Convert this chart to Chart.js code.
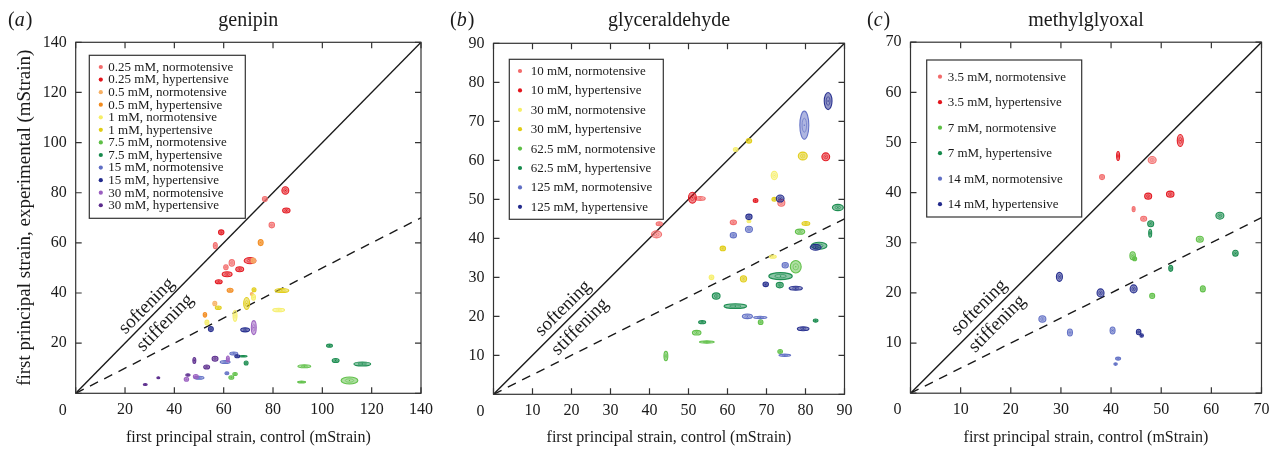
<!DOCTYPE html>
<html>
<head>
<meta charset="utf-8">
<script src="https://cdn.jsdelivr.net/npm/chart.js@4.4.0/dist/chart.umd.min.js"></script>
<style>
  html, body { margin: 0; padding: 0; background: #fff; }
  body { width: 1279px; height: 455px; position: relative; overflow: hidden; }
  canvas { position: absolute; top: 0; }
</style>
</head>
<body>
<canvas id="chartA" width="440" height="455" style="left:0"></canvas>
<canvas id="chartB" width="420" height="455" style="left:440px"></canvas>
<canvas id="chartC" width="419" height="455" style="left:860px"></canvas>
<script>
// each point: [control mean, experimental mean, control sd, experimental sd]  (mStrain)

// (a) genipin
const genipinTicks = [0, 20, 40, 60, 80, 100, 120, 140];
const genipinLabels = ['0.25 mM, normotensive', '0.25 mM, hypertensive', '0.5 mM, normotensive', '0.5 mM, hypertensive',
    '1 mM, normotensive', '1 mM, hypertensive', '7.5 mM, normotensive', '7.5 mM, hypertensive',
    '15 mM, normotensive', '15 mM, hypertensive', '30 mM, normotensive', '30 mM, hypertensive'];
const gen025Normo = [[76.7, 77.5, 1.0, 1.0], [79.5, 67.1, 1.1, 1.1], [56.6, 58.9, 0.8, 1.2], [63.3, 52.0, 1.1, 1.3], [60.9, 50.3, 0.9, 1.0]];
const gen025Hyper = [[85.0, 80.9, 1.4, 1.5], [85.4, 72.9, 1.5, 1.0], [59.0, 64.2, 1.1, 1.0], [70.7, 52.9, 2.4, 1.2], [66.5, 49.5, 1.6, 1.0], [61.4, 47.5, 2.0, 1.0], [58.0, 44.5, 1.4, 0.8]];
const gen05Normo = [[72.0, 52.9, 0.9, 1.0], [56.4, 35.8, 0.8, 0.9], [71.4, 39.6, 0.6, 0.6]];
const gen05Hyper = [[75.0, 60.1, 1.0, 1.2], [62.6, 41.1, 1.2, 0.8], [52.4, 31.3, 0.7, 0.9]];
const gen1Normo = [[82.3, 33.2, 2.4, 0.7], [72.1, 38.3, 0.8, 1.2], [64.6, 30.9, 0.8, 2.2], [53.2, 28.2, 0.8, 1.0]];
const gen1Hyper = [[83.6, 41.0, 2.8, 0.8], [72.3, 41.3, 0.8, 0.8], [69.3, 35.8, 1.2, 2.4], [57.8, 34.1, 1.2, 0.7]];
const gen75Normo = [[92.7, 10.8, 2.6, 0.6], [111.0, 5.1, 3.4, 1.4], [91.6, 4.5, 1.6, 0.4], [64.6, 7.7, 0.9, 0.6], [63.1, 6.3, 1.0, 0.7]];
const gen75Hyper = [[102.9, 19.0, 1.2, 0.6], [105.4, 13.1, 1.4, 0.8], [116.2, 11.7, 3.4, 0.8], [67.9, 14.8, 1.6, 0.3], [69.1, 12.1, 0.8, 0.8]];
const gen15Normo = [[64.1, 15.9, 1.6, 0.6], [60.6, 12.5, 2.0, 0.6], [61.3, 8.0, 0.8, 0.6], [50.0, 6.2, 2.0, 0.6]];
const gen15Hyper = [[54.8, 25.6, 1.0, 1.0], [68.7, 25.3, 1.8, 0.8], [65.5, 14.8, 1.0, 0.6]];
const gen30Normo = [[72.2, 26.2, 1.0, 2.8], [61.7, 13.7, 0.6, 1.2], [48.7, 6.7, 1.0, 0.8], [44.9, 5.6, 0.9, 0.8]];
const gen30Hyper = [[56.5, 13.8, 1.2, 1.0], [53.1, 10.5, 1.2, 0.8], [48.1, 13.1, 0.6, 1.2], [45.5, 7.3, 0.9, 0.5], [33.5, 6.2, 0.6, 0.4], [28.2, 3.5, 0.8, 0.4]];

// (b) glyceraldehyde
const glyTicks = [0, 10, 20, 30, 40, 50, 60, 70, 80, 90];
const glyLabels = ['10 mM, normotensive', '10 mM, hypertensive', '30 mM, normotensive', '30 mM, hypertensive',
    '62.5 mM, normotensive', '62.5 mM, hypertensive', '125 mM, normotensive', '125 mM, hypertensive'];
const gly10Normo = [[42.5, 43.7, 0.8, 0.5], [41.8, 41.0, 1.3, 0.9], [53.0, 50.2, 1.3, 0.5], [61.5, 44.1, 0.8, 0.6], [73.8, 49.1, 0.9, 0.9]];
const gly10Hyper = [[51.0, 50.4, 1.0, 1.4], [67.2, 49.7, 0.6, 0.5], [85.2, 60.9, 1.0, 1.0]];
const gly30Normo = [[62.1, 62.8, 0.6, 0.5], [72.0, 56.1, 0.8, 1.1], [65.5, 44.4, 0.5, 0.4], [71.6, 35.3, 0.9, 0.4], [55.9, 30.0, 0.6, 0.6]];
const gly30Hyper = [[65.5, 65.0, 0.7, 0.6], [79.3, 61.1, 1.15, 1.0], [72.0, 50.0, 0.6, 0.5], [80.1, 43.8, 1.0, 0.5], [58.8, 37.4, 0.7, 0.6], [64.1, 29.6, 0.8, 0.8]];
const gly62Normo = [[78.6, 41.7, 1.2, 0.65], [77.5, 32.7, 1.4, 1.6], [68.5, 18.5, 0.6, 0.6], [52.1, 15.8, 1.1, 0.6], [54.7, 13.4, 1.9, 0.3], [44.2, 9.8, 0.5, 1.2], [73.5, 11.0, 0.6, 0.5]];
const gly62Hyper = [[88.3, 47.9, 1.4, 0.8], [83.5, 38.1, 2.0, 0.9], [73.6, 30.3, 3.0, 0.9], [73.4, 28.0, 0.9, 0.7], [57.1, 25.2, 1.0, 0.8], [62.0, 22.6, 2.9, 0.6], [53.5, 18.5, 0.9, 0.4], [82.6, 18.9, 0.6, 0.4]];
const gly125Normo = [[79.7, 69.0, 1.15, 3.6], [65.5, 42.3, 0.9, 0.8], [61.5, 40.8, 0.8, 0.7], [74.8, 33.1, 0.8, 0.7], [65.1, 20.0, 1.3, 0.6], [68.4, 19.7, 1.7, 0.3], [74.7, 10.0, 1.5, 0.3]];
const gly125Hyper = [[85.8, 75.2, 1.0, 2.2], [73.5, 50.2, 1.0, 0.9], [65.5, 45.5, 0.8, 0.7], [82.6, 37.7, 1.4, 0.75], [69.8, 28.2, 0.7, 0.6], [77.5, 27.2, 1.7, 0.5], [79.4, 16.8, 1.5, 0.5]];

// (c) methylglyoxal
const mgoTicks = [0, 10, 20, 30, 40, 50, 60, 70];
const mgoLabels = ['3.5 mM, normotensive', '3.5 mM, hypertensive', '7 mM, normotensive', '7 mM, hypertensive',
    '14 mM, normotensive', '14 mM, hypertensive'];
const mgo35Normo = [[48.2, 46.5, 0.8, 0.7], [38.2, 43.1, 0.5, 0.5], [44.5, 36.7, 0.3, 0.5], [46.5, 34.8, 0.6, 0.5]];
const mgo35Hyper = [[53.8, 50.4, 0.6, 1.2], [41.4, 47.3, 0.3, 0.9], [47.4, 39.3, 0.7, 0.6], [51.8, 39.7, 0.75, 0.6]];
const mgo7Normo = [[57.7, 30.7, 0.7, 0.6], [44.3, 27.4, 0.55, 0.8], [44.7, 26.8, 0.4, 0.4], [58.3, 20.8, 0.5, 0.6], [48.2, 19.4, 0.5, 0.5]];
const mgo7Hyper = [[47.9, 33.8, 0.6, 0.6], [47.8, 31.9, 0.3, 0.8], [61.7, 35.4, 0.8, 0.7], [64.8, 27.9, 0.55, 0.6], [51.9, 24.9, 0.4, 0.6]];
const mgo14Normo = [[26.3, 14.8, 0.7, 0.65], [31.8, 12.1, 0.5, 0.7], [40.3, 12.5, 0.5, 0.7], [41.4, 6.9, 0.5, 0.3], [40.9, 5.8, 0.35, 0.25]];
const mgo14Hyper = [[29.7, 23.2, 0.6, 0.9], [37.9, 20.0, 0.7, 0.8], [44.5, 20.8, 0.7, 0.8], [45.5, 12.2, 0.45, 0.55], [46.1, 11.5, 0.35, 0.35]];

const RED_L = '#f26a6a', RED = '#e3141c';
const ORANGE_L = '#f7b063', ORANGE = '#f28a1c';
const YELLOW_L = '#f6ee66', YELLOW = '#e0cc14';
const GREEN_L = '#5dbf45', GREEN = '#168a4c';
const BLUE_L = '#5f6ec4', BLUE = '#222a8c';
const PURPLE_L = '#9a5ec0', PURPLE = '#5a2a8c';

const SERIF = '"Liberation Serif", "Times New Roman", serif';
const INK = '#1a1a1a';

function rgba(hex, a) {
    const n = parseInt(hex.slice(1), 16);
    return `rgba(${n >> 16}, ${(n >> 8) & 255}, ${n & 255}, ${a})`;
}

function makePanel(id, p) {
    const canvas = document.getElementById(id);
    const W = canvas.width, H = canvas.height;
    const lo = p.ticks[0], hi = p.ticks[p.ticks.length - 1];
    const step = p.ticks[1] - p.ticks[0];

    const datasets = [
        { label: 'y = x', guide: true, data: [{ x: lo, y: lo }, { x: hi, y: hi }], showLine: true,
          borderColor: INK, borderWidth: 1.4, pointRadius: 0 },
        { label: 'y = x / 2', guide: true, data: [{ x: lo, y: lo }, { x: hi, y: hi / 2 }], showLine: true,
          borderColor: INK, borderWidth: 1.4, borderDash: [9, 7], pointRadius: 0 }
    ];
    p.series.forEach((pts, i) => datasets.push({
        label: p.labels[i],
        data: pts.map(([x, y, sx, sy]) => ({ x, y, sx, sy })),
        backgroundColor: p.colors[i],
        borderColor: p.colors[i],
        pointRadius: 0
    }));

    // error ellipses (mean +/- sd) drawn through the chart scales
    const ellipses = {
        id: 'ellipses',
        afterDatasetsDraw(chart) {
            const { ctx, chartArea: a, scales: { x, y } } = chart;
            ctx.save();
            ctx.beginPath();
            ctx.rect(a.left, a.top, a.width, a.height);
            ctx.clip();
            chart.data.datasets.forEach(ds => {
                if (ds.guide) return;
                const c = ds.borderColor;
                ds.data.forEach(pt => {
                    const cx = x.getPixelForValue(pt.x), cy = y.getPixelForValue(pt.y);
                    const rx = Math.abs(x.getPixelForValue(pt.x + pt.sx) - cx);
                    const ry = Math.abs(y.getPixelForValue(pt.y + pt.sy) - cy);
                    ctx.beginPath();
                    ctx.ellipse(cx, cy, rx, ry, 0, 0, Math.PI * 2);
                    ctx.fillStyle = rgba(c, 0.5);
                    ctx.fill();
                    ctx.lineWidth = 1.1;
                    ctx.strokeStyle = rgba(c, 0.95);
                    ctx.stroke();
                    ctx.beginPath();
                    ctx.ellipse(cx, cy, rx * 0.5, ry * 0.5, 0, 0, Math.PI * 2);
                    ctx.lineWidth = 0.8;
                    ctx.strokeStyle = rgba(c, 0.75);
                    ctx.stroke();
                    ctx.fillStyle = c;
                    ctx.fillRect(cx - 0.6, cy - 0.6, 1.2, 1.2);
                });
            });
            ctx.restore();
        }
    };

    // box frame with inward ticks, titles, labels, legend
    const decor = {
        id: 'decor',
        afterDraw(chart) {
            const { ctx, chartArea: a, scales: { x, y } } = chart;
            ctx.save();
            ctx.strokeStyle = '#333';
            ctx.lineWidth = 1.2;
            ctx.strokeRect(a.left, a.top, a.width, a.height);
            ctx.beginPath();
            x.ticks.forEach(t => {
                const px = x.getPixelForValue(t.value);
                ctx.moveTo(px, a.bottom); ctx.lineTo(px, a.bottom - 6);
                ctx.moveTo(px, a.top); ctx.lineTo(px, a.top + 6);
            });
            y.ticks.forEach(t => {
                const py = y.getPixelForValue(t.value);
                ctx.moveTo(a.left, py); ctx.lineTo(a.left + 6, py);
                ctx.moveTo(a.right, py); ctx.lineTo(a.right - 6, py);
            });
            ctx.stroke();

            ctx.fillStyle = INK;
            // corner zero
            ctx.font = `16px ${SERIF}`;
            ctx.textAlign = 'right';
            ctx.textBaseline = 'middle';
            ctx.fillText('0', a.left - 9, a.bottom + 17);

            // panel title
            ctx.font = `20px ${SERIF}`;
            ctx.textAlign = 'center';
            ctx.textBaseline = 'alphabetic';
            ctx.fillText(p.title, (a.left + a.right) / 2, 26);

            // panel tag "(a)"
            ctx.textAlign = 'left';
            let tx = p.tagX;
            ctx.font = `20px ${SERIF}`;
            ctx.fillText('(', tx, 26); tx += ctx.measureText('(').width;
            ctx.font = `italic 20px ${SERIF}`;
            ctx.fillText(p.tag, tx, 26); tx += ctx.measureText(p.tag).width + 1;
            ctx.font = `20px ${SERIF}`;
            ctx.fillText(')', tx, 26);

            // softening / stiffening along the identity line
            const ang = Math.atan2(y.getPixelForValue(hi) - y.getPixelForValue(lo),
                                   x.getPixelForValue(hi) - x.getPixelForValue(lo));
            ctx.font = `19px ${SERIF}`;
            ctx.textAlign = 'center';
            ctx.textBaseline = 'middle';
            p.notes.forEach(n => {
                ctx.save();
                ctx.translate(x.getPixelForValue(n.x), y.getPixelForValue(n.y));
                ctx.rotate(ang);
                ctx.fillText(n.text, 0, 0);
                ctx.restore();
            });

            // legend box
            const L = p.legend;
            const bx = a.left + L.x, by = a.top + L.y;
            ctx.fillStyle = '#fff';
            ctx.fillRect(bx, by, L.w, L.h);
            ctx.strokeStyle = '#333';
            ctx.lineWidth = 1.2;
            ctx.strokeRect(bx, by, L.w, L.h);
            ctx.font = `13px ${SERIF}`;
            ctx.textAlign = 'left';
            ctx.textBaseline = 'middle';
            chart.data.datasets.filter(ds => !ds.guide).forEach((ds, i) => {
                const ry = by + L.first + i * L.gap;
                ctx.fillStyle = ds.borderColor;
                ctx.beginPath();
                ctx.arc(bx + L.dot, ry, 2.1, 0, Math.PI * 2);
                ctx.fill();
                ctx.fillStyle = INK;
                ctx.fillText(ds.label, bx + L.text, ry + 0.5);
            });
            ctx.restore();
        }
    };

    const tickFont = { family: SERIF, size: 16 };
    const hideZero = v => (v === 0 ? '' : v);

    return new Chart(canvas, {
        type: 'scatter',
        data: { datasets },
        options: {
            responsive: false,
            animation: false,
            events: [],
            layout: {
                padding: { left: 0, top: p.area.top, right: W - p.area.left - p.area.size, bottom: 0 }
            },
            plugins: { legend: { display: false }, tooltip: { enabled: false }, title: { display: false } },
            scales: {
                x: {
                    type: 'linear', min: lo, max: hi,
                    afterBuildTicks: s => { s.ticks = p.ticks.map(v => ({ value: v })); },
                    afterFit: s => { s.height = H - p.area.top - p.area.size; },
                    ticks: { stepSize: step, callback: hideZero, font: tickFont, color: INK, padding: 7, maxRotation: 0, autoSkip: false },
                    grid: { display: false, drawTicks: false },
                    border: { display: false },
                    title: { display: true, text: 'first principal strain, control (mStrain)', font: { family: SERIF, size: 16 }, color: INK, padding: { top: 0, bottom: 8 } }
                },
                y: {
                    type: 'linear', min: lo, max: hi,
                    afterBuildTicks: s => { s.ticks = p.ticks.map(v => ({ value: v })); },
                    afterFit: s => { s.width = p.area.left; },
                    ticks: { stepSize: step, callback: hideZero, font: tickFont, color: INK, padding: 9, autoSkip: false },
                    grid: { display: false, drawTicks: false },
                    border: { display: false },
                    title: { display: !!p.yTitle, text: p.yTitle || '', font: { family: SERIF, size: 19 }, color: INK, padding: { top: 13.5, bottom: 0 } }
                }
            }
        },
        plugins: [ellipses, decor]
    });
}

makePanel('chartA', {
    title: 'genipin', tag: 'a', tagX: 8,
    ticks: genipinTicks, labels: genipinLabels,
    series: [gen025Normo, gen025Hyper, gen05Normo, gen05Hyper, gen1Normo, gen1Hyper,
             gen75Normo, gen75Hyper, gen15Normo, gen15Hyper, gen30Normo, gen30Hyper],
    colors: [RED_L, RED, ORANGE_L, ORANGE, YELLOW_L, YELLOW, GREEN_L, GREEN, BLUE_L, BLUE, PURPLE_L, PURPLE],
    yTitle: 'first principal strain, experimental (mStrain)',
    area: { left: 75.7, top: 42.3, size: 351 },
    legend: { x: 13.6, y: 13, w: 156, h: 163, first: 11.7, gap: 12.57, dot: 11.5, text: 19 },
    notes: [{ text: 'softening', x: 28.8, y: 34.8 }, { text: 'stiffening', x: 36.3, y: 28.1 }]
});

makePanel('chartB', {
    title: 'glyceraldehyde', tag: 'b', tagX: 10,
    ticks: glyTicks, labels: glyLabels,
    series: [gly10Normo, gly10Hyper, gly30Normo, gly30Hyper, gly62Normo, gly62Hyper, gly125Normo, gly125Hyper],
    colors: [RED_L, RED, YELLOW_L, YELLOW, GREEN_L, GREEN, BLUE_L, BLUE],
    area: { left: 53.5, top: 43.3, size: 351 },
    legend: { x: 15.8, y: 16, w: 154, h: 160, first: 11.7, gap: 19.4, dot: 10.7, text: 21.4 },
    notes: [{ text: 'softening', x: 17.9, y: 22.0 }, { text: 'stiffening', x: 22.2, y: 17.3 }]
});

makePanel('chartC', {
    title: 'methylglyoxal', tag: 'c', tagX: 7,
    ticks: mgoTicks, labels: mgoLabels,
    series: [mgo35Normo, mgo35Hyper, mgo7Normo, mgo7Hyper, mgo14Normo, mgo14Hyper],
    colors: [RED_L, RED, GREEN_L, GREEN, BLUE_L, BLUE],
    area: { left: 50.5, top: 42.2, size: 351 },
    legend: { x: 16.2, y: 17.8, w: 155, h: 157, first: 16.7, gap: 25.5, dot: 13.3, text: 21 },
    notes: [{ text: 'softening', x: 13.7, y: 17.1 }, { text: 'stiffening', x: 17.3, y: 13.8 }]
});
</script>
</body>
</html>
